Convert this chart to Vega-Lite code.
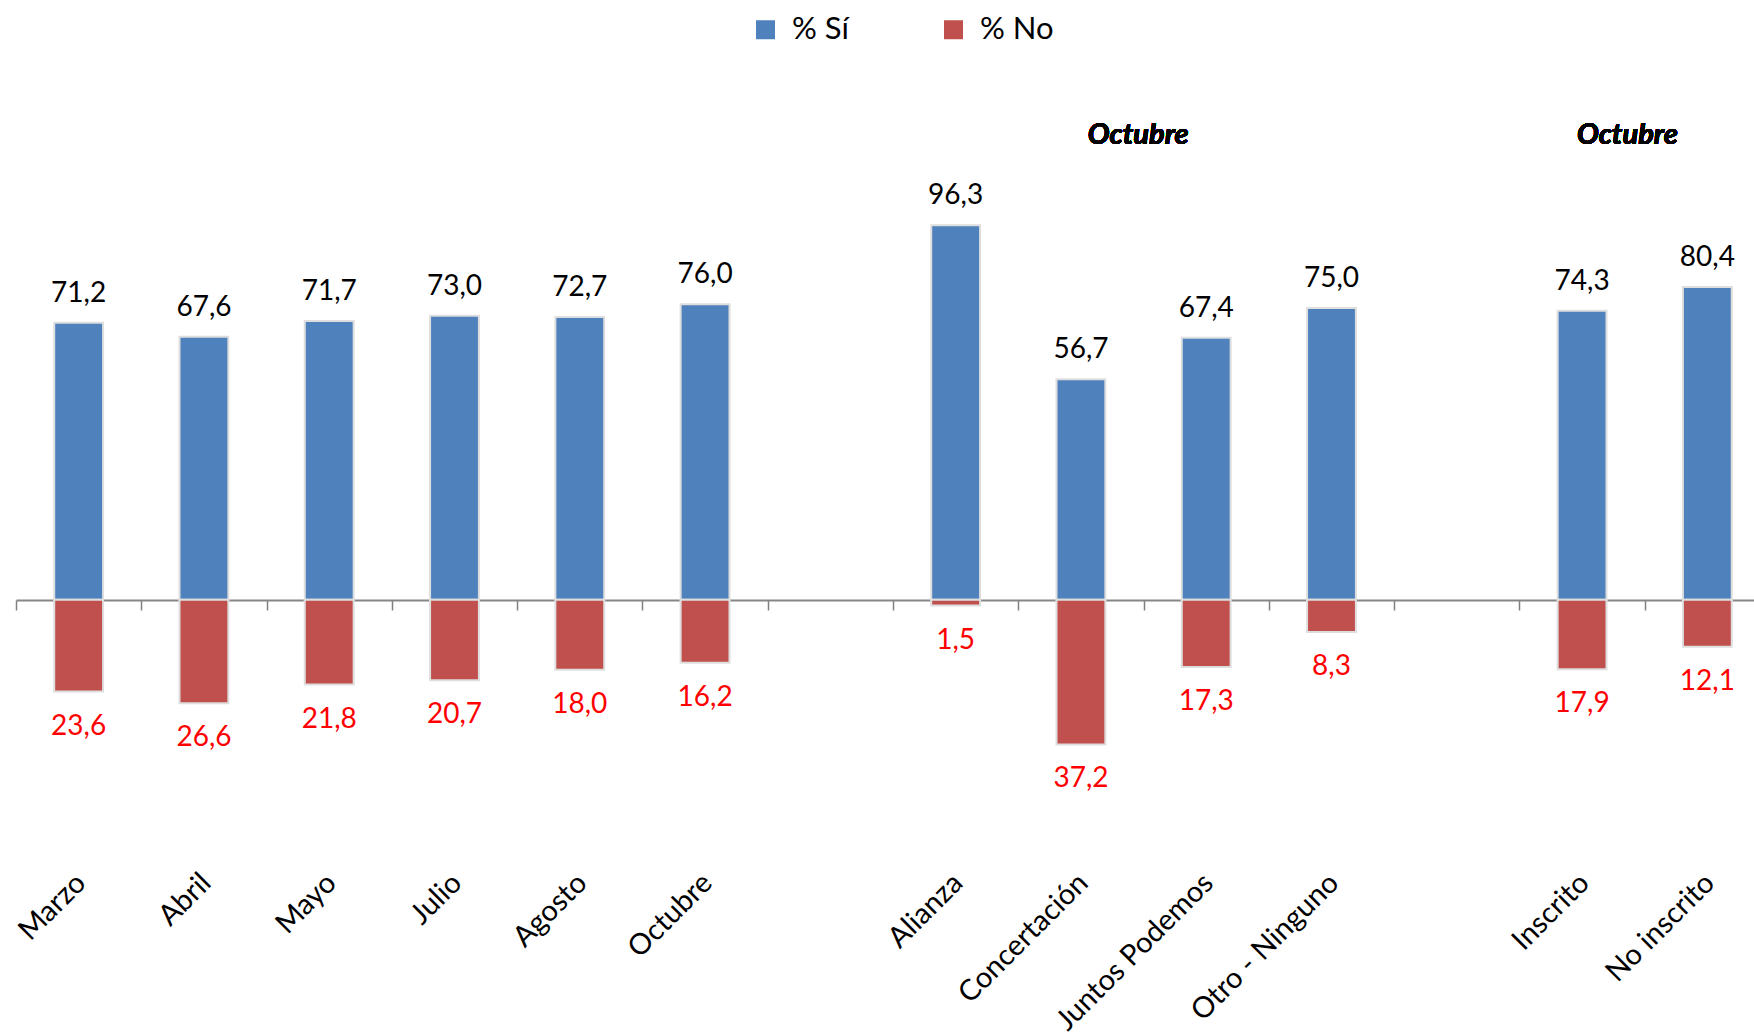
{
  "$schema": "https://vega.github.io/schema/vega-lite/v6.json",
  "autosize": "none",
  "padding": {"left": 16, "top": 100, "right": 0, "bottom": 162},
  "width": 1738,
  "height": 772,
  "background": "white",
  "config": {
    "view": {"stroke": null},
    "font": "Lato",
    "locale": {"number": {"decimal": ",", "thousands": ".", "grouping": [3], "currency": ["", " €"], "minus": ""}}
  },
  "data": {"values": [
    {"cat": "Marzo", "serie": "% Sí", "value": 71.2},
    {"cat": "Marzo", "serie": "% No", "value": -23.6},
    {"cat": "Abril", "serie": "% Sí", "value": 67.6},
    {"cat": "Abril", "serie": "% No", "value": -26.6},
    {"cat": "Mayo", "serie": "% Sí", "value": 71.7},
    {"cat": "Mayo", "serie": "% No", "value": -21.8},
    {"cat": "Julio", "serie": "% Sí", "value": 73.0},
    {"cat": "Julio", "serie": "% No", "value": -20.7},
    {"cat": "Agosto", "serie": "% Sí", "value": 72.7},
    {"cat": "Agosto", "serie": "% No", "value": -18.0},
    {"cat": "Octubre", "serie": "% Sí", "value": 76.0},
    {"cat": "Octubre", "serie": "% No", "value": -16.2},
    {"cat": "Alianza", "serie": "% Sí", "value": 96.3},
    {"cat": "Alianza", "serie": "% No", "value": -1.5},
    {"cat": "Concertación", "serie": "% Sí", "value": 56.7},
    {"cat": "Concertación", "serie": "% No", "value": -37.2},
    {"cat": "Juntos Podemos", "serie": "% Sí", "value": 67.4},
    {"cat": "Juntos Podemos", "serie": "% No", "value": -17.3},
    {"cat": "Otro - Ninguno", "serie": "% Sí", "value": 75.0},
    {"cat": "Otro - Ninguno", "serie": "% No", "value": -8.3},
    {"cat": "Inscrito", "serie": "% Sí", "value": 74.3},
    {"cat": "Inscrito", "serie": "% No", "value": -17.9},
    {"cat": "No inscrito", "serie": "% Sí", "value": 80.4},
    {"cat": "No inscrito", "serie": "% No", "value": -12.1}
  ]},
  "encoding": {
    "x": {
      "field": "cat", "type": "nominal",
      "scale": {
        "domain": ["Marzo", "Abril", "Mayo", "Julio", "Agosto", "Octubre", " ", "Alianza", "Concertación", "Juntos Podemos", "Otro - Ninguno", "  ", "Inscrito", "No inscrito"],
        "range": [0, 1754], "paddingInner": 0, "paddingOuter": 0
      },
      "axis": {
        "title": null, "orient": "bottom", "offset": -272, "grid": false,
        "tickBand": "extent", "tickSize": 10, "tickColor": "#808080", "tickWidth": 1.5,
        "domainColor": "#868686", "domainWidth": 2,
        "labelAngle": -45, "labelAlign": "right", "labelBaseline": "top",
        "labelPadding": 258, "labelOffset": -8, "labelFontSize": 29, "labelFont": "Lato", "labelColor": "black",
        "labelLimit": 500, "labelOverlap": false
      }
    },
    "y": {
      "field": "value", "type": "quantitative",
      "scale": {"domain": [-70, 128.5], "nice": false, "zero": false},
      "axis": null
    }
  },
  "layer": [
    {
      "mark": {"type": "bar", "width": {"band": 0.39}, "stroke": "#dedede", "strokeWidth": 2},
      "encoding": {
        "y2": {"datum": 0},
        "color": {
          "field": "serie", "type": "nominal",
          "scale": {"domain": ["% Sí", "% No"], "range": ["#4F81BD", "#C0504D"]},
          "legend": {
            "title": null, "orient": "none", "direction": "horizontal",
            "legendX": 734, "legendY": -86,
            "symbolType": "square", "symbolSize": 361, "symbolStrokeWidth": 0,
            "labelFontSize": 31, "labelFont": "Lato", "labelColor": "black",
            "labelOffset": 11, "columnPadding": 89
          }
        }
      }
    },
    {
      "transform": [{"filter": "datum.serie === '% Sí'"}],
      "mark": {"type": "text", "dy": -21, "baseline": "alphabetic", "align": "center", "fontSize": 28, "color": "black"},
      "encoding": {"text": {"field": "value", "type": "quantitative", "format": ".1f"}}
    },
    {
      "transform": [{"filter": "datum.serie === '% No'"}],
      "mark": {"type": "text", "dy": 43, "baseline": "alphabetic", "align": "center", "fontSize": 28, "color": "#FF0000"},
      "encoding": {"text": {"field": "value", "type": "quantitative", "format": ".1f"}}
    },
    {
      "mark": {"type": "text", "text": "Octubre", "dx": -68, "baseline": "alphabetic", "align": "center", "fontSize": 29, "fontWeight": "bold", "fontStyle": "italic", "color": "black"},
      "encoding": {"x": {"datum": "Juntos Podemos"}, "y": {"datum": 117.3}}
    },
    {
      "mark": {"type": "text", "text": "Octubre", "dx": -80, "baseline": "alphabetic", "align": "center", "fontSize": 29, "fontWeight": "bold", "fontStyle": "italic", "color": "black"},
      "encoding": {"x": {"datum": "No inscrito"}, "y": {"datum": 117.3}}
    }
  ]
}
